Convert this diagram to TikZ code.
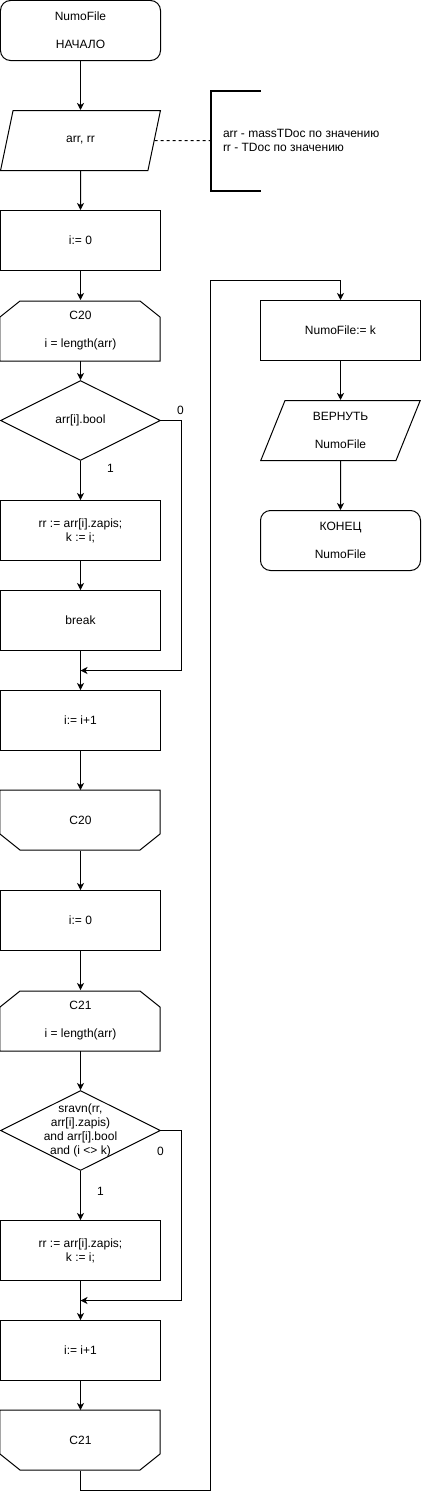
\documentclass[tikz,border=0pt]{standalone}
\usepackage{fontspec}
\setmainfont{Liberation Sans}
\usetikzlibrary{shapes.geometric,arrows.meta}
\begin{document}
\begin{tikzpicture}[x=1pt,y=-1pt,line width=1pt,
    every node/.style={font=\fontsize{12}{14}\selectfont},
    term/.style={draw,rectangle,rounded corners=10pt,minimum width=160pt,minimum height=60pt,inner sep=0pt,align=center},
    proc/.style={draw,rectangle,minimum width=160pt,minimum height=60pt,inner sep=0pt,align=center},
    io/.style={draw,trapezium,trapezium left angle=71.57,trapezium right angle=108.43,trapezium stretches=true,minimum width=160pt,minimum height=60pt,inner sep=0pt,align=center},
    loopbox/.style={rectangle,minimum width=160pt,minimum height=60pt,inner sep=0pt,align=center},
    cond/.style={draw,diamond,aspect=2,minimum width=160pt,minimum height=80pt,inner sep=0pt,align=center},
    arr/.style={-{Stealth[length=7pt,width=7pt,inset=2pt]}}]

    \useasboundingbox (-0.5,-0.5) rectangle (420.5,1498.5);

    \node[term] (start) at (80,30) {NumoFile\\[14pt]НАЧАЛО};
    \node[io] (inp) at (80,140) {arr, rr};
    \node[align=left,anchor=west,inner sep=0pt] (note) at (222,140) {arr - massTDoc по значению\\rr - TDoc по значению};
    \coordinate (nb) at (210,140);
    \node[proc] (init1) at (80,240) {i:= 0};
    \node[loopbox] (lb1) at (80,330) {C20\\[14pt]i = length(arr)};
    \node[cond] (cond1) at (80,420) {arr[i].bool};
    \node[proc] (set1) at (80,530) {rr := arr[i].zapis;\\k := i;};
    \node[proc] (brk) at (80,620) {break};
    \coordinate (j1) at (80,670);
    \node[proc] (inc1) at (80,720) {i:= i+1};
    \node[loopbox] (le1) at (80,820) {C20};
    \node[proc] (init2) at (80,920) {i:= 0};
    \node[loopbox] (lb2) at (80,1020) {C21\\[14pt]i = length(arr)};
    \node[cond,label={[align=center]center:{sravn(rr,\\arr[i].zapis)\\and arr[i].bool\\and (i <> k)}}] (cond2) at (80,1130) {};
    \node[proc] (set2) at (80,1250) {rr := arr[i].zapis;\\k := i;};
    \coordinate (j2) at (80,1300);
    \node[proc] (inc2) at (80,1350) {i:= i+1};
    \node[loopbox] (le2) at (80,1440) {C21};
    \coordinate (b1) at (210,1490);
    \coordinate (b2) at (210,280);
    \node[proc] (res) at (340,330) {NumoFile:= k};
    \node[io] (ret) at (340,430) {ВЕРНУТЬ\\[14pt]NumoFile};
    \node[term] (stop) at (340,540) {КОНЕЦ\\[14pt]NumoFile};

    \node (f1) at (180,410) {0};
    \node (t1) at (110,468) {1};
    \node (f2) at (160,1151) {0};
    \node (t2) at (100,1191) {1};

    \draw (lb1.south west) -- ++(0,-44) -- ++(20,-16) -- ++(120,0) -- ++(20,16) -- ++(0,44) -- cycle;
    \draw (lb2.south west) -- ++(0,-44) -- ++(20,-16) -- ++(120,0) -- ++(20,16) -- ++(0,44) -- cycle;
    \draw (le1.north west) -- ++(0,44) -- ++(20,16) -- ++(120,0) -- ++(20,-16) -- ++(0,-44) -- cycle;
    \draw (le2.north west) -- ++(0,44) -- ++(20,16) -- ++(120,0) -- ++(20,-16) -- ++(0,-44) -- cycle;

    \draw[arr] (start) -- (inp);
    \draw[arr] (inp) -- (init1);
    \draw[dash pattern=on 3pt off 3pt] (inp.east) -- (nb);
    \draw[line width=2pt] (260,90) -| (nb) |- (260,190);
    \draw[arr] (init1) -- (lb1);
    \draw[arr] (lb1) -- (cond1);
    \draw[arr] (cond1) -- (set1);
    \draw[arr] (set1) -- (brk);
    \draw[arr] (brk) -- (inc1);
    \draw[arr] (cond1.east) -- ++(20,0) |- (j1);
    \draw[arr] (inc1) -- (le1);
    \draw[arr] (le1) -- (init2);
    \draw[arr] (init2) -- (lb2);
    \draw[arr] (lb2) -- (cond2);
    \draw[arr] (cond2) -- (set2);
    \draw[arr] (set2) -- (inc2);
    \draw[arr] (cond2.east) -- ++(20,0) |- (j2);
    \draw[arr] (inc2) -- (le2);
    \draw[arr] (le2.south) |- (b1) -- (b2) -| (res.north);
    \draw[arr] (res) -- (ret);
    \draw[arr] (ret) -- (stop);
\end{tikzpicture}
\end{document}
